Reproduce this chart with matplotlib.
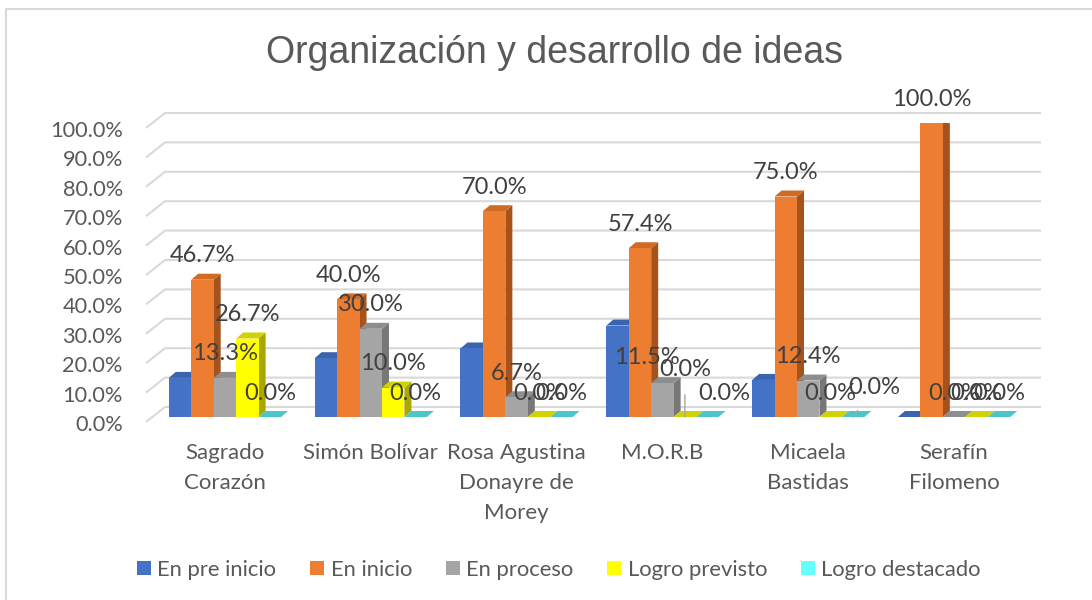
import matplotlib
matplotlib.use("Agg")
import matplotlib.pyplot as plt
from matplotlib.patches import Polygon, Patch, Rectangle
from matplotlib.transforms import ScaledTranslation

plt.rcParams['font.family'] = ['Lato', 'DejaVu Sans']

# ---------------- data ----------------
categories = ["Sagrado\nCorazón", "Simón Bolívar", "Rosa Agustina\nDonayre de\nMorey",
              "M.O.R.B", "Micaela\nBastidas", "Serafín\nFilomeno"]
series_names = ["En pre inicio", "En inicio", "En proceso", "Logro previsto", "Logro destacado"]
en_pre_inicio = [0.133, 0.200, 0.233, 0.311, 0.126, 0.000]
en_inicio = [0.467, 0.400, 0.700, 0.574, 0.750, 1.000]
en_proceso = [0.133, 0.300, 0.067, 0.115, 0.124, 0.000]
logro_previsto = [0.267, 0.100, 0.000, 0.000, 0.000, 0.000]
logro_destacado = [0.000, 0.000, 0.000, 0.000, 0.000, 0.000]
series_values = [en_pre_inicio, en_inicio, en_proceso, logro_previsto, logro_destacado]
series_labeled = [False, True, True, True, True]
y_ticks = [0.0, 0.1, 0.2, 0.3, 0.4, 0.5, 0.6, 0.7, 0.8, 0.9, 1.0]
title = "Organización y desarrollo de ideas"

# ---------------- styles ----------------
front_colors = ["#4472C4", "#ED7D31", "#A5A5A5", "#FFFF00", "#66FFFF"]
top_colors = ["#3B63AE", "#D06A25", "#8E8E8E", "#D2D200", "#4CC6C8"]
side_colors = ["#2F5597", "#A6521C", "#777777", "#A8A800", "#3AA8AA"]
# manually moved data labels in the original chart: (category, series) -> (dx px, dy px, leader line)
label_nudges = {(3, 2): (-16, 26, False), (3, 3): (0, 48, True), (3, 4): (17, 24, False),
                (4, 4): (21, 30, True)}
DEFAULT_LABEL_OFFSET = (0, 24, False)

W_PX, H_PX = 1092, 600
fig = plt.figure(figsize=(W_PX / 100, H_PX / 100), dpi=100)
ax_left, ax_right, ax_base, ax_top = 152, 1027, 417, 123
ax = fig.add_axes([ax_left / W_PX, 1 - ax_base / H_PX,
                   (ax_right - ax_left) / W_PX, (ax_base - ax_top) / H_PX])
n = len(categories)
ax.set_xlim(-0.5, n - 0.5)
ax.set_ylim(0, 1)
px_x = n / (ax_right - ax_left)         # data units per pixel (x)
px_y = 1.0 / (ax_base - ax_top)         # data units per pixel (y)
for s in ax.spines.values():
    s.set_visible(False)

# back-wall gridlines with slanted floor edge
gx0 = -6 / (ax_right - ax_left)
gx1 = 13 / (ax_right - ax_left)
gx2 = (1041 - ax_left) / (ax_right - ax_left)
for v in y_ticks:
    ax.plot([gx0, gx1, gx2], [v - 5 * px_y, v + 10 * px_y, v + 10 * px_y],
            transform=ax.get_yaxis_transform(), color="#D9D9D9", lw=1.5,
            clip_on=False, zorder=1, solid_capstyle='butt')

# bars with pseudo 3D depth
w = 0.154
DX = 7 * px_x
DY = 6 * px_y
for j, vals in enumerate(series_values):
    xs = [i + (j - 2) * w for i in range(n)]
    zf = 2 + j * 0.1
    ax.bar(xs, vals, width=w, color=front_colors[j], zorder=zf + 0.02, linewidth=0)
    for i, (x, v) in enumerate(zip(xs, vals)):
        l, r = x - w / 2, x + w / 2
        side = Polygon([(r, 0), (r + DX, DY), (r + DX, v + DY), (r, v)], closed=True,
                       facecolor=side_colors[j], edgecolor='none', zorder=zf + 0.01)
        top = Polygon([(l, v), (r, v), (r + DX, v + DY), (l + DX, v + DY)], closed=True,
                      facecolor=top_colors[j], edgecolor='none', zorder=zf + 0.01)
        ax.add_patch(side)
        ax.add_patch(top)
        if series_labeled[j]:
            dx, dy, leader = label_nudges.get((i, j), DEFAULT_LABEL_OFFSET)
            kw = {}
            if leader:
                kw['arrowprops'] = dict(arrowstyle='-', color='#A6A6A6', lw=1,
                                        shrinkA=9, shrinkB=0)
            ax.annotate(f"{v * 100:.1f}%", (x, v), xytext=(dx * 0.72, dy * 0.72),
                        textcoords='offset points', ha='center', va='center',
                        fontsize=17, color='#404040', zorder=10, annotation_clip=False, **kw)

# axes ticks
ax.set_xticks(range(n))
ax.set_xticklabels(categories, linespacing=1.6)
ax.tick_params(axis='x', length=0, pad=19, labelsize=16, labelcolor='#595959')
ax.set_yticks(y_ticks)
ax.set_yticklabels([f"{v * 100:.1f}%" for v in y_ticks])
ax.tick_params(axis='y', length=0, pad=21, labelsize=15.7, labelcolor='#595959')
shift = ScaledTranslation(0, -6 / 100, fig.dpi_scale_trans)
for lab in ax.get_yticklabels():
    lab.set_transform(lab.get_transform() + shift)

# title
fig.text(555 / W_PX, 1 - 53 / H_PX, title, ha='center', va='center', fontsize=27,
         family=['Liberation Sans', 'DejaVu Sans'], color='#595959')

# legend
handles = [Patch(facecolor=c, edgecolor='none') for c in front_colors]
fig.legend(handles, series_names, loc='center', bbox_to_anchor=(559 / W_PX, 1 - 570 / H_PX),
           ncol=5, frameon=False, fontsize=15.8, handlelength=0.62, handleheight=0.62,
           handletextpad=0.3, columnspacing=1.55, labelcolor='#595959')

# chart border
fig.patches.append(Rectangle((6 / W_PX, -0.05), 1.1, 1.05 - 9 / H_PX, transform=fig.transFigure,
                             fill=False, edgecolor='#D9D9D9', lw=1.5))

fig.savefig("out.png", dpi=100)
